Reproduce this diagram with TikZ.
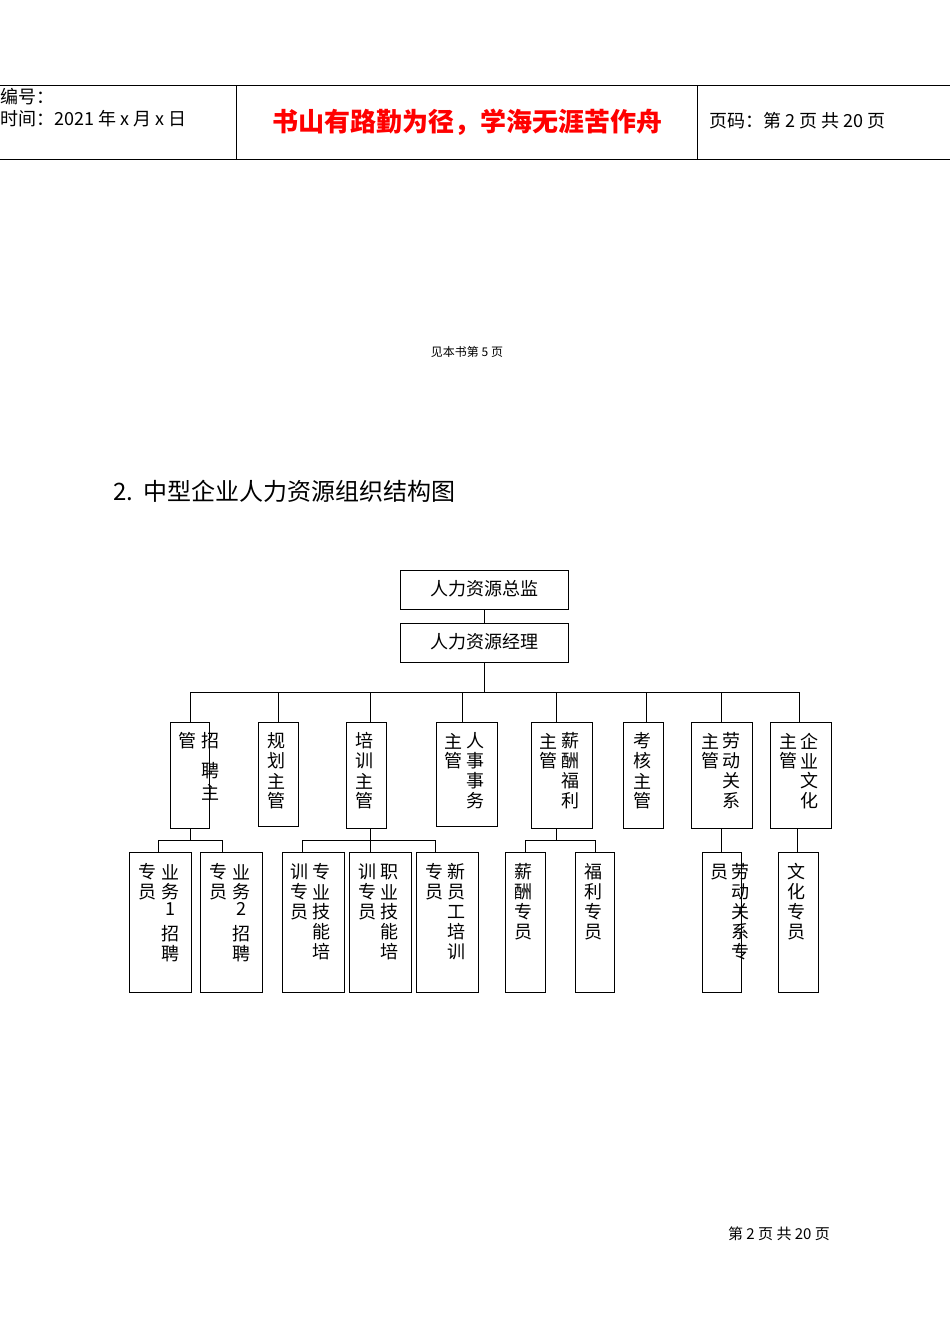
\documentclass[tikz,border=0pt]{standalone}
\usepackage{fontspec}
\setmainfont{Noto Sans CJK SC}
\tikzset{bx/.style={draw,line width=0.9pt},ln/.style={line width=0.9pt},
 c/.style={inner sep=0pt,font=\fontsize{18}{18}\selectfont}}
\newcommand\vc[3]{\node[c] at (#1,#2) {#3};}
\newcommand\col[4]{\foreach \t [count=\i from 0] in {#4} {\node[c] at (#1,#2+#3*\i) {\t};}}
\begin{document}
\begin{tikzpicture}[x=1pt,y=-1pt]
\useasboundingbox (0,0) rectangle (950,1342);
% header
\draw[ln] (0,85) -- (950,85); \draw[ln] (0,159) -- (950,159);
\draw[ln] (236,85) -- (236,159); \draw[ln] (697,85) -- (697,159);
\node[anchor=west,inner sep=0pt,font=\fontsize{18}{18}\selectfont] (h1) at (0,97) {编号：};
\node[anchor=west,inner sep=0pt,font=\fontsize{18}{18}\selectfont] (h2) at (0,119) {时间：2021 年 x 月 x 日};
\node[text=red,font=\fontsize{26}{26}\selectfont\bfseries,inner sep=0pt] (h3) at (467,122) {书山有路勤为径，学海无涯苦作舟};
\node[anchor=west,inner sep=0pt,font=\fontsize{18}{18}\selectfont] (h4) at (709,121) {页码：第 2 页 共 20 页};
\node[font=\fontsize{12}{12}\selectfont,inner sep=0pt] (see) at (467,352) {见本书第 5 页};
\node[anchor=west,inner sep=0pt,font=\fontsize{24}{24}\selectfont] (title) at (113,491) {2.\ \ 中型企业人力资源组织结构图};
\node[inner sep=0pt,font=\fontsize{15}{15}\selectfont] (foot) at (779,1234) {第 2 页 共 20 页};
% top boxes
\draw[bx] (400,570) rectangle (568,609); \node[c] (zj) at (484,589) {人力资源总监};
\draw[bx] (400,623) rectangle (568,662); \node[c] (jl) at (484,642) {人力资源经理};
\draw[ln] (484,609) -- (484,623); \draw[ln] (484,662) -- (484,692);
\draw[ln] (190,692) -- (799,692);
\foreach \x in {190,278,370,462,556,646,721,799} \draw[ln] (\x,692) -- (\x,722);
% level 2 boxes
\draw[bx] (170,722) rectangle (209,828);
\draw[bx] (258,722) rectangle (298,826);
\draw[bx] (346,722) rectangle (386,828);
\draw[bx] (436,722) rectangle (497,826);
\draw[bx] (531,722) rectangle (592,828);
\draw[bx] (623,722) rectangle (663,828);
\draw[bx] (691,722) rectangle (752,828);
\draw[bx] (770,722) rectangle (831,828);
\vc{187}{741}{管} \vc{210}{741}{招} \vc{210}{771}{聘} \vc{210}{792}{主}
\col{276}{741}{20}{规,划,主,管}
\col{364}{741}{20}{培,训,主,管}
\col{453}{741}{20}{主,管} \col{475}{741}{20}{人,事,事,务}
\col{548}{741}{20}{主,管} \col{570}{741}{20}{薪,酬,福,利}
\col{642}{741}{20}{考,核,主,管}
\col{710}{741}{20}{主,管} \col{731}{741}{20}{劳,动,关,系}
\col{788}{741}{20}{主,管} \col{809}{741}{20}{企,业,文,化}
% level 3 connectors
\draw[ln] (190,828) -- (190,840); \draw[ln] (158,840) -- (222,840);
\draw[ln] (158,840) -- (158,852); \draw[ln] (222,840) -- (222,852);
\draw[ln] (370,828) -- (370,852); \draw[ln] (302,840) -- (435,840);
\draw[ln] (302,840) -- (302,852); \draw[ln] (435,840) -- (435,852);
\draw[ln] (556,828) -- (556,840); \draw[ln] (525,840) -- (595,840);
\draw[ln] (525,840) -- (525,852); \draw[ln] (595,840) -- (595,852);
\draw[ln] (721,828) -- (721,852);
\draw[ln] (797,828) -- (797,852);
% level 3 boxes
\draw[bx] (129,852) rectangle (191,992);
\draw[bx] (200,852) rectangle (262,992);
\draw[bx] (282,852) rectangle (344,992);
\draw[bx] (349,852) rectangle (411,992);
\draw[bx] (416,852) rectangle (478,992);
\draw[bx] (505,852) rectangle (545,992);
\draw[bx] (575,852) rectangle (614,992);
\draw[bx] (702,852) rectangle (741,992);
\draw[bx] (778,852) rectangle (818,992);
\col{147}{872}{20}{专,员} \vc{170}{872}{业} \vc{170}{892}{务} \vc{170}{909}{1} \vc{170}{934}{招} \vc{170}{954}{聘}
\col{218}{872}{20}{专,员} \vc{241}{872}{业} \vc{241}{892}{务} \vc{241}{909}{2} \vc{241}{934}{招} \vc{241}{954}{聘}
\col{299}{872}{20}{训,专,员} \col{321}{872}{20}{专,业,技,能,培}
\col{367}{872}{20}{训,专,员} \col{389}{872}{20}{职,业,技,能,培}
\col{434}{872}{20}{专,员} \col{456}{872}{20}{新,员,工,培,训}
\col{523}{872}{20}{薪,酬,专,员}
\col{593}{872}{20}{福,利,专,员}
\vc{719}{872}{员} \col{740}{872}{20}{劳,动,关,系,专}
\col{796}{872}{20}{文,化,专,员}
\end{tikzpicture}
\end{document}
